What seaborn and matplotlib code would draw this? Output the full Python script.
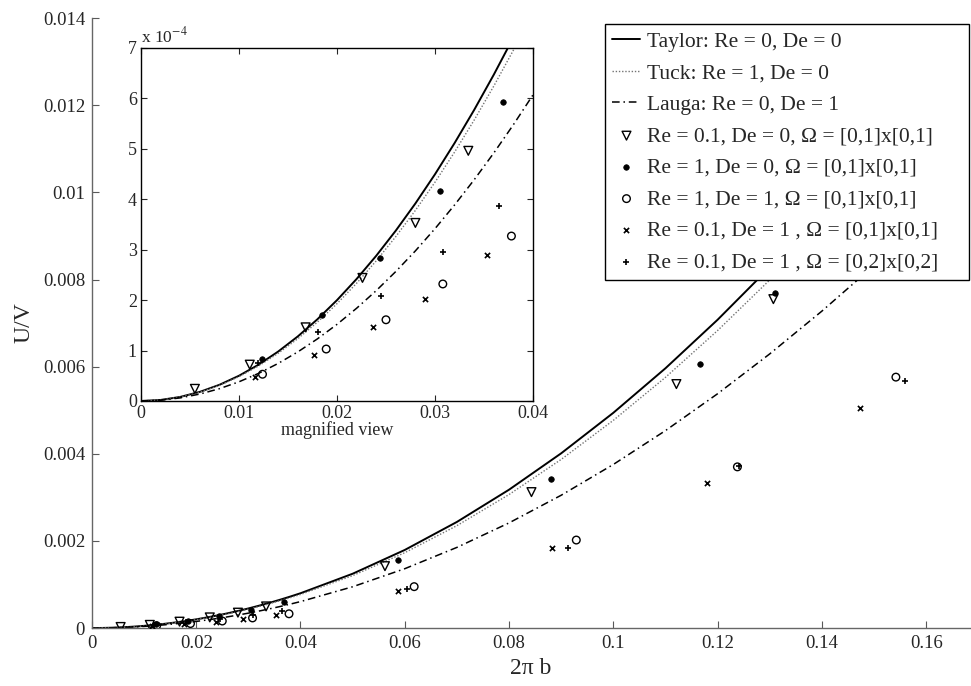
import numpy as np
import pandas as pd
import seaborn as sns
import matplotlib.pyplot as plt
from matplotlib.ticker import FuncFormatter, MultipleLocator

# 理论曲线
x_curve = [0, 0.002, 0.004, 0.006, 0.008, 0.010, 0.012, 0.014, 0.016, 0.018, 0.020,
           0.022, 0.024, 0.026, 0.028, 0.030, 0.032, 0.034, 0.036, 0.038, 0.040,
           0.05, 0.06, 0.07, 0.08, 0.09, 0.10, 0.11, 0.12, 0.13, 0.14, 0.15, 0.16, 0.17]
taylor = [0, 2.0e-6, 8.0e-6, 1.8e-5, 3.2e-5, 5.0e-5, 7.2e-5, 9.798e-5, 1.2796e-4, 1.6194e-4,
          1.999e-4, 2.4186e-4, 2.878e-4, 3.3773e-4, 3.916e-4, 4.495e-4, 5.114e-4, 5.7721e-4,
          6.470e-4, 7.2077e-4, 7.985e-4,
          1.2463e-3, 1.7923e-3, 2.4357e-3, 3.1757e-3, 4.011e-3, 4.9406e-3, 5.963e-3,
          7.0769e-3, 8.2804e-3, 9.572e-3, 1.0949e-2, 1.2411e-2, 1.3954e-2]
tuck = [0, 1.93e-6, 7.72e-6, 1.737e-5, 3.088e-5, 4.825e-5, 6.947e-5, 9.455e-5, 1.2348e-4,
        1.5627e-4, 1.929e-4, 2.3339e-4, 2.777e-4, 3.2591e-4, 3.779e-4, 4.3377e-4, 4.935e-4,
        5.570e-4, 6.244e-4, 6.9554e-4, 7.705e-4,
        1.2027e-3, 1.7296e-3, 2.3505e-3, 3.0646e-3, 3.8706e-3, 4.7677e-3, 5.7543e-3,
        6.8292e-3, 7.9906e-3, 9.237e-3, 1.0566e-2, 1.1977e-2, 1.3466e-2]
lauga = [0, 1.52e-6, 6.08e-6, 1.368e-5, 2.432e-5, 3.8e-5, 5.471e-5, 7.446e-5, 9.725e-5,
         1.2307e-4, 1.519e-4, 1.8381e-4, 2.187e-4, 2.5667e-4, 2.976e-4, 3.4162e-4, 3.887e-4,
         4.3868e-4, 4.917e-4, 5.4779e-4, 6.069e-4,
         9.472e-4, 1.3621e-3, 1.8511e-3, 2.4135e-3, 3.0484e-3, 3.7549e-3, 4.5319e-3,
         5.3784e-3, 6.2931e-3, 7.2747e-3, 8.3212e-3, 9.4324e-3, 1.0605e-2]

# 数值模拟结果
tri_x = [0.0055, 0.0111, 0.0168, 0.0226, 0.0280, 0.0334, 0.0562, 0.0843, 0.1121, 0.1307]
tri_y = [2.4e-5, 7.2e-5, 1.46e-4, 2.44e-4, 3.53e-4, 4.96e-4, 1.42e-3, 3.12e-3, 5.60e-3, 7.55e-3]
dot_x = [0.0123, 0.0185, 0.0244, 0.0305, 0.0369, 0.0587, 0.0881, 0.1166, 0.1310]
dot_y = [8.4e-5, 1.71e-4, 2.84e-4, 4.16e-4, 5.92e-4, 1.56e-3, 3.41e-3, 6.06e-3, 7.69e-3]
circ_x = [0.0124, 0.0189, 0.0250, 0.0308, 0.0378, 0.0618, 0.0929, 0.1238, 0.1542]
circ_y = [5.3e-5, 1.03e-4, 1.61e-4, 2.32e-4, 3.27e-4, 9.5e-4, 2.02e-3, 3.70e-3, 5.76e-3]
cross_x = [0.0116, 0.0177, 0.0237, 0.0290, 0.0353, 0.0587, 0.0883, 0.1179, 0.1473]
cross_y = [4.8e-5, 9.2e-5, 1.46e-4, 2.02e-4, 2.90e-4, 8.5e-4, 1.83e-3, 3.33e-3, 5.06e-3]
plus_x = [0.0119, 0.0181, 0.0245, 0.0308, 0.0365, 0.0605, 0.0913, 0.1241, 0.1560]
plus_y = [7.6e-5, 1.36e-4, 2.09e-4, 2.96e-4, 3.87e-4, 8.9e-4, 1.83e-3, 3.72e-3, 5.68e-3]

line_labels = ['Taylor: Re = 0, De = 0', 'Tuck: Re = 1, De = 0', 'Lauga: Re = 0, De = 1']
point_labels = ['Re = 0.1, De = 0, Ω = [0,1]x[0,1]',
                'Re = 1, De = 0, Ω = [0,1]x[0,1]',
                'Re = 1, De = 1, Ω = [0,1]x[0,1]',
                'Re = 0.1, De = 1 , Ω = [0,1]x[0,1]',
                'Re = 0.1, De = 1 , Ω = [0,2]x[0,2]']

sns.set_style('ticks')
plt.rcParams['font.family'] = ['Liberation Serif', 'DejaVu Serif']
plt.rcParams['mathtext.fontset'] = 'stix'
plt.rcParams['xtick.direction'] = 'in'
plt.rcParams['ytick.direction'] = 'in'

curves = [(taylor, dict(color='k', linestyle='-', linewidth=1.4)),
          (tuck, dict(color='0.45', linestyle=(0, (1, 1.3)), linewidth=1.0)),
          (lauga, dict(color='k', linestyle=(0, (5, 2.5, 1, 2.5)), linewidth=1.1))]
points = [(tri_x, tri_y, dict(marker='v', s=40, facecolors='none', edgecolor='k', linewidths=1.0)),
          (dot_x, dot_y, dict(marker='o', s=16, facecolors='k', edgecolor='k', linewidths=0.5)),
          (circ_x, circ_y, dict(marker='o', s=30, facecolors='none', edgecolor='k', linewidths=1.0)),
          (cross_x, cross_y, dict(marker='x', s=14, edgecolor='k', linewidths=1.2)),
          (plus_x, plus_y, dict(marker='+', s=24, edgecolor='k', linewidths=1.2))]


def draw(ax, with_labels):
    for (yv, kw), lab in zip(curves, line_labels):
        sns.lineplot(x=x_curve, y=yv, ax=ax, sort=False, estimator=None,
                     label=lab if with_labels else None, **kw)
    for (xv, yv, kw), lab in zip(points, point_labels):
        sns.scatterplot(x=xv, y=yv, ax=ax, color='k', zorder=3,
                        label=lab if with_labels else None, **kw)


fig = plt.figure(figsize=(9.71, 6.86), dpi=100)
ax = fig.add_axes([0.0947, 0.0845, 0.9042, 0.889])
draw(ax, True)
ax.set_xlim(0, 0.1684)
ax.set_ylim(0, 0.014)
ax.xaxis.set_major_locator(MultipleLocator(0.02))
ax.yaxis.set_major_locator(MultipleLocator(0.002))
fmt = FuncFormatter(lambda v, p: f'{v:.3g}' if abs(v) > 1e-12 else '0')
ax.xaxis.set_major_formatter(fmt)
ax.yaxis.set_major_formatter(fmt)
ax.tick_params(direction='in', bottom=True, left=True, labelsize=13.5, length=5,
               width=0.8, color='0.35', pad=5)
for s in ['top', 'right']:
    ax.spines[s].set_visible(False)
for s in ['left', 'bottom']:
    ax.spines[s].set_color('0.4')
    ax.spines[s].set_linewidth(1.0)
ax.set_xlabel('2π b', fontsize=17, labelpad=4)
ax.set_ylabel('U/V', fontsize=17, labelpad=6)
leg = ax.legend(loc='upper left', bbox_to_anchor=(0.5843, 0.0, 0.4146, 0.990),
                mode='expand', fontsize=15.5, frameon=True, fancybox=False,
                framealpha=1, edgecolor='k', handlelength=1.3, handletextpad=0.3,
                labelspacing=0.53, borderpad=0.35, scatterpoints=1, borderaxespad=0)
leg.get_frame().set_linewidth(1.0)
leg.set_zorder(10)

# 放大图
axin = fig.add_axes([0.1452, 0.4155, 0.4037, 0.5146])
draw(axin, False)
axin.set_xlim(0, 0.04)
axin.set_ylim(0, 7e-4)
axin.xaxis.set_major_locator(MultipleLocator(0.01))
axin.yaxis.set_major_locator(MultipleLocator(1e-4))
axin.xaxis.set_major_formatter(fmt)
axin.yaxis.set_major_formatter(FuncFormatter(lambda v, p: f'{v * 1e4:.0f}'))
axin.tick_params(direction='in', bottom=True, left=True, top=True, right=True,
                 labelsize=13, length=4, width=0.8, pad=3)
for s in axin.spines.values():
    s.set_visible(True)
    s.set_color('k')
    s.set_linewidth(1.0)
axin.set_xlabel('magnified view', fontsize=13, labelpad=-1)
axin.set_ylabel('')
axin.text(0.0, 1.005, 'x 10$^{-4}$', transform=axin.transAxes, fontsize=12.5,
          ha='left', va='bottom')
if axin.get_legend():
    axin.get_legend().remove()

fig.savefig('out.png', dpi=100)
